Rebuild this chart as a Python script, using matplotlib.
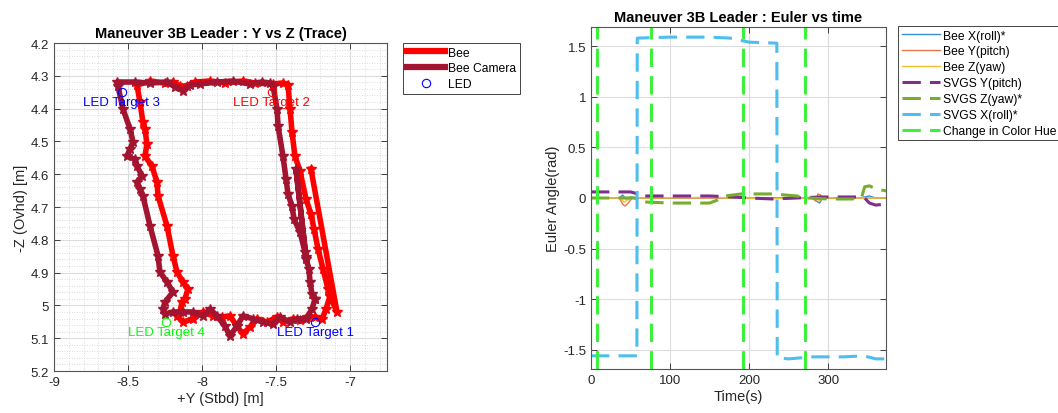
import matplotlib
matplotlib.use("Agg")
import matplotlib.pyplot as plt
from matplotlib.lines import Line2D
from matplotlib.ticker import MultipleLocator, FormatStrFormatter

plt.rcParams["font.family"] = ["Liberation Sans", "DejaVu Sans"]
plt.rcParams["axes.unicode_minus"] = False

# --- trace data: +Y (Stbd) vs -Z (Ovhd), metres ---
bee_y = [-7.135, -7.162, -7.189, -7.236, -7.291, -7.338, -7.385, -7.453, -7.493, -7.561,
         -7.628, -7.676, -7.723, -7.764, -7.811, -7.865, -7.926, -7.993, -8.061, -8.128,
         -8.169, -8.149, -8.135, -8.115, -8.095, -8.128, -8.169, -8.196, -8.236, -8.297,
         -8.304, -8.338, -8.385, -8.372, -8.385, -8.399, -8.419, -8.439, -8.351, -8.250,
         -8.196, -8.149, -8.101, -8.047, -7.946, -7.845, -7.723, -7.642, -7.520, -7.453,
         -7.419, -7.405, -7.392, -7.372, -7.338, -7.297, -7.264, -7.243, -7.216, -7.182,
         -7.149, -7.135, -7.088, -7.264]
bee_z = [4.971, 5.011, 5.041, 5.035, 5.035, 5.045, 5.041, 5.051, 5.035, 5.051,
         5.041, 5.066, 5.087, 5.063, 5.032, 5.035, 5.032, 5.020, 5.041, 5.051,
         5.032, 5.020, 4.990, 4.980, 4.950, 4.929, 4.898, 4.849, 4.758, 4.666,
         4.624, 4.575, 4.545, 4.508, 4.462, 4.441, 4.380, 4.328, 4.316, 4.322,
         4.319, 4.331, 4.331, 4.319, 4.316, 4.322, 4.316, 4.322, 4.325, 4.322,
         4.328, 4.401, 4.471, 4.545, 4.590, 4.676, 4.721, 4.767, 4.828, 4.889,
         4.950, 4.971, 5.020, 4.584]

cam_y = [-7.236, -7.257, -7.297, -7.358, -7.405, -7.473, -7.520, -7.588, -7.655, -7.723,
         -7.764, -7.811, -7.845, -7.899, -7.946, -7.993, -8.061, -8.128, -8.196, -8.250,
         -8.264, -8.250, -8.196, -8.236, -8.284, -8.297, -8.351, -8.399, -8.419, -8.439,
         -8.405, -8.439, -8.453, -8.507, -8.486, -8.466, -8.486, -8.534, -8.568, -8.574,
         -8.453, -8.351, -8.236, -8.182, -8.128, -8.081, -8.014, -7.899, -7.791, -7.676,
         -7.595, -7.541, -7.520, -7.493, -7.486, -7.453, -7.432, -7.419, -7.392, -7.378,
         -7.338, -7.304, -7.297, -7.365, -7.297, -7.277, -7.270, -7.257, -7.236]
cam_z = [4.980, 5.011, 5.041, 5.041, 5.051, 5.035, 5.057, 5.051, 5.041, 5.032,
         5.063, 5.093, 5.063, 5.032, 5.011, 5.032, 5.020, 5.020, 5.020, 5.026,
         5.011, 4.990, 4.959, 4.929, 4.898, 4.849, 4.758, 4.666, 4.645, 4.624,
         4.605, 4.575, 4.554, 4.545, 4.523, 4.502, 4.462, 4.401, 4.331, 4.319,
         4.319, 4.322, 4.319, 4.334, 4.346, 4.328, 4.325, 4.319, 4.316, 4.325,
         4.319, 4.322, 4.331, 4.401, 4.453, 4.545, 4.615, 4.660, 4.697, 4.737,
         4.776, 4.837, 4.852, 4.584, 4.859, 4.889, 4.929, 4.965, 4.980]

led_names = ["LED Target 1", "LED Target 2", "LED Target 3", "LED Target 4"]
led_y = [-7.236, -7.530, -8.541, -8.243]
led_z = [5.050, 4.350, 4.350, 5.050]
led_colors = ["#0000ff", "#ff0000", "#0000ff", "#00ff00"]

# --- euler angles vs time ---
t_bx = [0, 5, 36, 40, 44, 50, 60, 100, 150, 200, 240, 280, 285, 289, 293, 300, 340, 352, 356, 360, 373]
bee_x = [0.0, 0.0, 0.0, 0.03, -0.01, 0.01, 0.0, 0.0, 0.005, 0.0, 0.0, 0.0, -0.03, -0.05, 0.0, 0.0, 0.0, 0.02, 0.01, 0.0, 0.0]
t_bp = [0, 36, 40, 43, 47, 52, 60, 120, 200, 280, 284, 287, 290, 294, 300, 373]
bee_p = [0.0, 0.0, -0.06, -0.08, -0.05, 0.0, 0.0, 0.0, 0.0, 0.0, -0.03, 0.04, 0.03, -0.01, 0.0, 0.0]
t_bz = [0, 36, 42, 46, 52, 150, 230, 285, 289, 293, 373]
bee_yaw = [0.0, 0.0, -0.04, -0.02, 0.0, 0.005, -0.005, 0.0, -0.03, 0.0, 0.0]

t_sp = [0, 50, 55, 60, 65, 120, 150, 180, 200, 230, 260, 290, 320, 340, 346, 352, 360, 373]
svgs_p = [0.06, 0.06, 0.05, 0.03, 0.02, 0.02, 0.02, 0.01, 0.0, -0.01, 0.0, 0.01, 0.01, 0.01, 0.0, -0.05, -0.07, -0.06]
t_sz = [0, 55, 60, 70, 100, 150, 160, 170, 190, 230, 245, 260, 275, 300, 330, 342, 346, 352, 360, 373]
svgs_z = [0.0, 0.0, -0.02, -0.04, -0.05, -0.05, -0.02, 0.02, 0.04, 0.04, 0.03, 0.02, 0.0, -0.01, -0.01, 0.0, 0.11, 0.12, 0.09, 0.07]
t_sx = [0, 58, 58.5, 100, 150, 176, 200, 235, 235.5, 250, 280, 320, 345, 360, 373]
svgs_x = [-1.56, -1.56, 1.58, 1.59, 1.59, 1.58, 1.54, 1.53, -1.58, -1.59, -1.57, -1.57, -1.56, -1.59, -1.59]

hue_change_t = [7, 76, 192, 271]

AX_COLOR = "#262626"
GRID_COLOR = "#dcdcdc"
DASH = (0, (6, 3))
BEE_RED = "#ff0000"
CAM_RED = "#a2142f"

fig = plt.figure(figsize=(10.58, 4.14), dpi=100)


def style_axes(ax):
    for sp in ax.spines.values():
        sp.set_color("#555555")
        sp.set_linewidth(0.8)
    ax.tick_params(direction="in", top=True, right=True, colors=AX_COLOR,
                   labelsize=9.5, length=4, width=0.6, which="major")
    ax.tick_params(which="minor", length=0)
    ax.grid(True, which="major", color=GRID_COLOR, linewidth=0.8)


legend_kw = dict(loc="upper left", borderaxespad=0, fontsize=8.7, fancybox=False,
                 edgecolor=AX_COLOR, framealpha=1, handlelength=3.2,
                 handletextpad=0.25, labelspacing=0.32, borderpad=0.3)

# ---------- left: Y vs Z trace ----------
ax1 = fig.add_axes([0.051, 0.1014, 0.3148, 0.7923])
ax1.plot(bee_y, bee_z, color=BEE_RED, lw=4, marker="*", ms=7, zorder=3)
ax1.plot(cam_y, cam_z, color=CAM_RED, lw=4, marker="*", ms=7, zorder=3)
for name, y, z, c in zip(led_names, led_y, led_z, led_colors):
    ax1.plot(y, z, "o", mfc="none", mec=c, ms=6, mew=0.8, zorder=4)
    ax1.text(y, z + 0.03, name, color=c, fontsize=9.5, ha="center", va="center", zorder=5)

ax1.set_xlim(-9, -6.75)
ax1.set_ylim(5.2, 4.2)
ax1.xaxis.set_major_locator(MultipleLocator(0.5))
ax1.xaxis.set_minor_locator(MultipleLocator(0.1))
ax1.yaxis.set_major_locator(MultipleLocator(0.1))
ax1.yaxis.set_minor_locator(MultipleLocator(0.02))
ax1.xaxis.set_major_formatter(FormatStrFormatter("%g"))
ax1.yaxis.set_major_formatter(FormatStrFormatter("%g"))
style_axes(ax1)
ax1.grid(True, which="minor", color="#d0d0d0", linewidth=0.6, linestyle=(0, (1, 2)))
ax1.set_axisbelow(True)
ax1.set_title("Maneuver 3B Leader : Y vs Z (Trace)", fontsize=10.5, fontweight="bold", pad=4)
ax1.set_xlabel("+Y (Stbd) [m]", fontsize=10.5, color=AX_COLOR, labelpad=2)
ax1.set_ylabel("-Z (Ovhd) [m]", fontsize=10.5, color=AX_COLOR, labelpad=2)

trace_handles = [
    Line2D([], [], color=BEE_RED, lw=4.5),
    Line2D([], [], color=CAM_RED, lw=4.5),
    Line2D([], [], ls="none", marker="o", mfc="none", mec="#0000ff", ms=6, mew=0.8),
]
leg1 = fig.legend(trace_handles, ["Bee", "Bee Camera", "LED"],
                  bbox_to_anchor=(0.381, 0.8937), **legend_kw)
leg1.get_frame().set_linewidth(0.6)

# ---------- right: Euler angles vs time ----------
ax2 = fig.add_axes([0.5586, 0.1063, 0.2788, 0.8261])
ax2.plot(t_bx, bee_x, color="#3a8fd0", lw=1.0, label="Bee X(roll)*")
ax2.plot(t_bp, bee_p, color="#e8774a", lw=1.0, label="Bee Y(pitch)")
ax2.plot(t_bz, bee_yaw, color="#f2c12e", lw=1.0, label="Bee Z(yaw)")
ax2.plot(t_sp, svgs_p, color="#7e2f8e", lw=2.2, ls=DASH, label="SVGS Y(pitch)")
ax2.plot(t_sz, svgs_z, color="#77ac30", lw=2.2, ls=DASH, label="SVGS Z(yaw)*")
ax2.plot(t_sx, svgs_x, color="#4dbeee", lw=2.2, ls=DASH, label="SVGS X(roll)*")
for i, t in enumerate(hue_change_t):
    ax2.axvline(t, color="#3cf03c", lw=2.2, ls=DASH,
                label="Change in Color Hue" if i == 0 else None)

ax2.set_xlim(0, 373)
ax2.set_ylim(-1.69, 1.69)
ax2.xaxis.set_major_locator(MultipleLocator(100))
ax2.yaxis.set_major_locator(MultipleLocator(0.5))
ax2.yaxis.set_major_formatter(FormatStrFormatter("%g"))
style_axes(ax2)
ax2.set_axisbelow(True)
ax2.set_title("Maneuver 3B Leader : Euler vs time", fontsize=10.5, fontweight="bold", pad=4)
ax2.set_xlabel("Time(s)", fontsize=10.5, color=AX_COLOR, labelpad=2)
ax2.set_ylabel("Euler Angle(rad)", fontsize=10.5, color=AX_COLOR, labelpad=2)

h2, l2 = ax2.get_legend_handles_labels()
leg2 = fig.legend(h2, l2, bbox_to_anchor=(0.8488, 0.9348), **legend_kw)
leg2.get_frame().set_linewidth(0.6)

fig.savefig("out.png", dpi=100)
